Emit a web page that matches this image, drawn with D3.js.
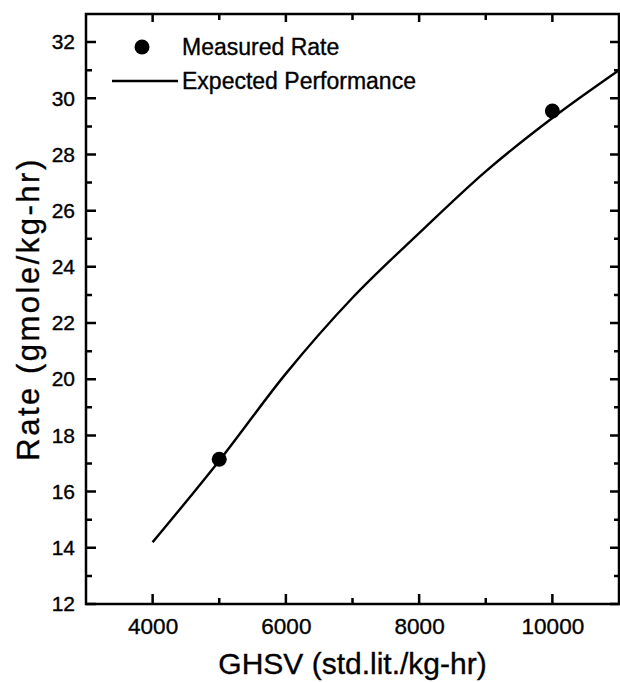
<!DOCTYPE html>
<html>
<head>
<meta charset="utf-8">
<script src="https://cdn.jsdelivr.net/npm/d3@7"></script>
<style>
  body { margin: 0; background: #fff; }
  text { font-family: "Liberation Sans", Arial, sans-serif; fill: #000; stroke: #000; stroke-width: 0.35px; }
</style>
</head>
<body>
<div id="chart"></div>
<script>
// Rate vs GHSV

// measured points
var measuredGhsv = [5000, 10000];
var measuredRate = [17.15, 29.55];

// expected performance curve
var curveGhsv = [4000, 5000, 6000, 7000, 8000, 9000, 10000, 11000];
var curveRate = [14.2, 17.1, 20.2, 22.9, 25.2, 27.4, 29.3, 31.0];

var xTicks = [4000, 6000, 8000, 10000];
var xMinor = [5000, 7000, 9000];
var yTicks = [12, 14, 16, 18, 20, 22, 24, 26, 28, 30, 32];
var yMinor = [13, 15, 17, 19, 21, 23, 25, 27, 29, 31];

var svgWidth = 620;
var svgHeight = 682;

var margin = { top: 14, right: 1, bottom: 78, left: 86 };
var width = svgWidth - margin.left - margin.right;
var height = svgHeight - margin.top - margin.bottom;

var svg = d3.select("#chart")
  .append("svg")
  .attr("width", svgWidth)
  .attr("height", svgHeight);

var chartGroup = svg.append("g")
  .attr("transform", `translate(${margin.left}, ${margin.top})`);

var xScale = d3.scaleLinear().domain([3000, 11000]).range([0, width]);
var yScale = d3.scaleLinear().domain([12, 33]).range([height, 0]);

// tick labels from the axis generators
var bottomAxis = d3.axisBottom(xScale).tickValues(xTicks).tickSize(0).tickPadding(14).tickFormat(d3.format("d"));
var leftAxis = d3.axisLeft(yScale).tickValues(yTicks).tickSize(0).tickPadding(11);

var gx = chartGroup.append("g")
  .attr("transform", `translate(0, ${height})`)
  .call(bottomAxis);
gx.select(".domain").remove();
gx.selectAll("text").style("font-size", "22.5px");

var gy = chartGroup.append("g")
  .call(leftAxis);
gy.select(".domain").remove();
gy.selectAll("text").style("font-size", "21px");

// inward tick marks on all four sides, one path
var tickPath = d3.path();
xTicks.forEach(function(d) {
  tickPath.moveTo(xScale(d), height); tickPath.lineTo(xScale(d), height - 10);
  tickPath.moveTo(xScale(d), 0); tickPath.lineTo(xScale(d), 8);
});
xMinor.forEach(function(d) {
  tickPath.moveTo(xScale(d), height); tickPath.lineTo(xScale(d), height - 6);
  tickPath.moveTo(xScale(d), 0); tickPath.lineTo(xScale(d), 6);
});
yTicks.forEach(function(d) {
  tickPath.moveTo(0, yScale(d)); tickPath.lineTo(10, yScale(d));
  tickPath.moveTo(width, yScale(d)); tickPath.lineTo(width - 9, yScale(d));
});
yMinor.forEach(function(d) {
  tickPath.moveTo(0, yScale(d)); tickPath.lineTo(6, yScale(d));
  tickPath.moveTo(width, yScale(d)); tickPath.lineTo(width - 5, yScale(d));
});

chartGroup.append("path")
  .attr("d", tickPath.toString())
  .attr("fill", "none")
  .attr("stroke", "#000")
  .attr("stroke-width", 2.5);

// frame
chartGroup.append("rect")
  .attr("x", 0).attr("y", 0)
  .attr("width", width).attr("height", height)
  .attr("fill", "none")
  .attr("stroke", "#000")
  .attr("stroke-width", 2.5);

// expected curve
var curveData = curveGhsv.map((g, i) => ({ x: g, y: curveRate[i] }));
var lineGen = d3.line()
  .x(d => xScale(d.x))
  .y(d => yScale(d.y))
  .curve(d3.curveMonotoneX);

chartGroup.append("path")
  .datum(curveData)
  .attr("fill", "none")
  .attr("stroke", "#000")
  .attr("stroke-width", 2.4)
  .attr("d", lineGen);

// measured points
chartGroup.selectAll("circle.pt")
  .data(measuredGhsv.map((g, i) => ({ x: g, y: measuredRate[i] })))
  .enter()
  .append("circle")
  .attr("class", "pt")
  .attr("cx", d => xScale(d.x))
  .attr("cy", d => yScale(d.y))
  .attr("r", 7.5)
  .attr("fill", "#000");

// legend
var legend = svg.append("g");
legend.append("circle")
  .attr("cx", 142).attr("cy", 47).attr("r", 7.5).attr("fill", "#000");
legend.append("text")
  .attr("x", 182).attr("y", 47).attr("dy", "0.35em")
  .style("font-size", "23px")
  .text("Measured Rate");
legend.append("line")
  .attr("x1", 112).attr("x2", 178).attr("y1", 81).attr("y2", 81)
  .attr("stroke", "#000").attr("stroke-width", 2.4);
legend.append("text")
  .attr("x", 182).attr("y", 81).attr("dy", "0.35em")
  .style("font-size", "23px")
  .text("Expected Performance");

// axis labels
svg.append("text")
  .attr("transform", `translate(39, ${margin.top + height / 2}) rotate(-90)`)
  .attr("text-anchor", "middle")
  .style("font-size", "31px")
  .style("letter-spacing", "2.5px")
  .text("Rate (gmole/kg-hr)");

svg.append("text")
  .attr("x", margin.left + width / 2)
  .attr("y", 674)
  .attr("text-anchor", "middle")
  .style("font-size", "30px")
  .text("GHSV (std.lit./kg-hr)");
</script>
</body>
</html>
